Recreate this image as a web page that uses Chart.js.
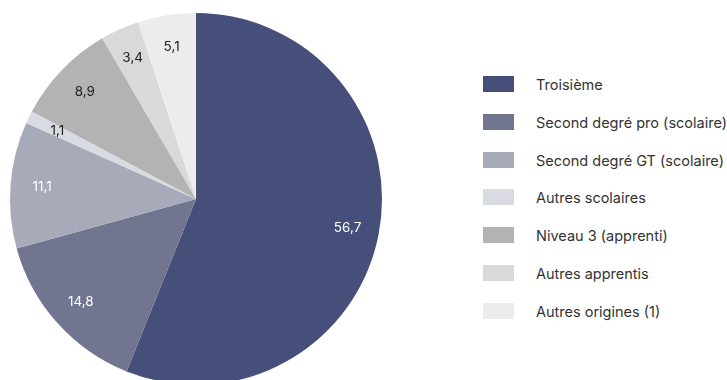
<!DOCTYPE html>
<html lang="fr">
<head>
<meta charset="utf-8">
<script src="https://cdn.jsdelivr.net/npm/chart.js@4/dist/chart.umd.min.js"></script>
<style>
  html, body { margin: 0; padding: 0; background: #fff; }
  body { width: 727px; height: 380px; overflow: hidden; position: relative; font-family: "Inter", "Lato", sans-serif; }
  #wrap { position: absolute; left: 0; top: 0; width: 400px; height: 400px; }
  #legend { position: absolute; left: 483px; top: 76px; margin: 0; padding: 0; list-style: none; }
  #legend li { height: 37.8px; display: flex; align-items: flex-start; white-space: nowrap; }
  #legend .box { width: 31px; height: 16px; flex: none; }
  #legend .txt { margin-left: 22px; font-size: 14.5px; line-height: 18px; color: #333; }
</style>
</head>
<body>
<div id="wrap"><canvas id="pie" width="400" height="400"></canvas></div>
<ul id="legend"></ul>
<script>
// Origine des élèves (en %)
const LABELS = [
  "Troisième",
  "Second degré pro (scolaire)",
  "Second degré GT (scolaire)",
  "Autres scolaires",
  "Niveau 3 (apprenti)",
  "Autres apprentis",
  "Autres origines (1)"
];
const VALUES = [56.7, 14.8, 11.1, 1.1, 8.9, 3.4, 5.1];
const COLORS = ["#464f7a", "#717590", "#a7aab9", "#d8dbe2", "#b3b3b3", "#d9d9d9", "#ececec"];
const LABEL_COLORS = ["#fff", "#fff", "#fff", "#222", "#222", "#222", "#222"];

// étiquettes de valeur dans les parts
const valueLabels = {
  id: 'valueLabels',
  afterDatasetsDraw(chart) {
    const ctx = chart.ctx;
    const meta = chart.getDatasetMeta(0);
    ctx.save();
    ctx.font = '13.5px Inter, Lato, sans-serif';
    ctx.textAlign = 'center';
    ctx.textBaseline = 'middle';
    meta.data.forEach((arc, i) => {
      const p = arc.getProps(['x', 'y', 'startAngle', 'endAngle', 'outerRadius'], true);
      const mid = (p.startAngle + p.endAngle) / 2;
      const r = p.outerRadius * 0.83;
      ctx.fillStyle = LABEL_COLORS[i];
      ctx.fillText(String(VALUES[i]).replace('.', ','), p.x + Math.cos(mid) * r, p.y + Math.sin(mid) * r);
    });
    ctx.restore();
  }
};

const chart = new Chart(document.getElementById('pie'), {
  type: 'pie',
  data: {
    labels: LABELS,
    datasets: [{
      data: VALUES,
      backgroundColor: COLORS,
      borderWidth: 0
    }]
  },
  options: {
    responsive: false,
    animation: false,
    layout: { padding: { left: 10, right: 18, top: 13, bottom: 15 } },
    plugins: {
      legend: { display: false },
      tooltip: { enabled: false }
    }
  },
  plugins: [valueLabels]
});

// légende HTML
const legendEl = document.getElementById('legend');
chart.data.labels.forEach((lab, i) => {
  const li = document.createElement('li');
  const box = document.createElement('span');
  box.className = 'box';
  box.style.background = chart.data.datasets[0].backgroundColor[i];
  const txt = document.createElement('span');
  txt.className = 'txt';
  txt.textContent = lab;
  li.appendChild(box); li.appendChild(txt);
  legendEl.appendChild(li);
});
</script>
</body>
</html>
